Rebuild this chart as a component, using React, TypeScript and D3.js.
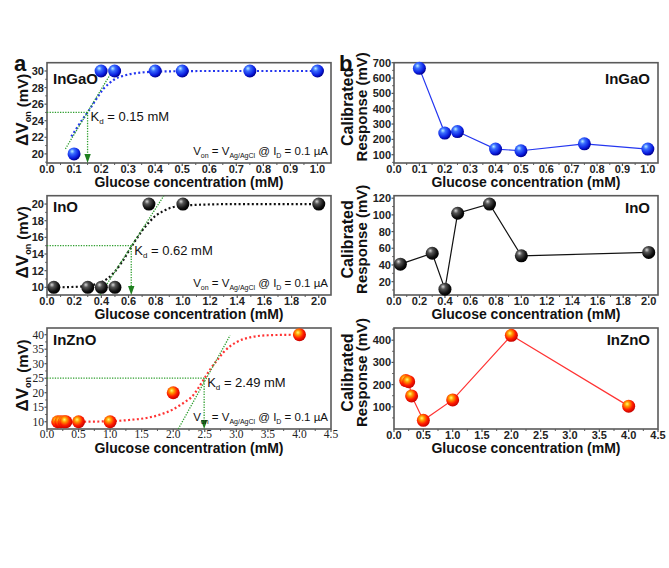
import * as d3 from "d3";

// ---- panel a : delta V_on vs glucose, with fit ----
const ingaoConc = [0.1, 0.2, 0.25, 0.4, 0.5, 0.75, 1.0];
const ingaoDeltaV = [20, 30, 30, 30, 30, 30, 30];
const ingaoFitConc = [0.09, 0.11, 0.13, 0.15, 0.17, 0.19, 0.21, 0.23, 0.25, 0.28, 0.32, 0.36, 0.4, 0.5, 0.6, 0.75, 1.0];
const ingaoFitV = [22.1, 23.1, 24.1, 25.0, 26.0, 27.0, 27.9, 28.5, 29.0, 29.4, 29.7, 29.85, 29.92, 29.98, 30, 30, 30];
const ingaoTangentConc = [0.068, 0.245];
const ingaoTangentV = [20.6, 30.2];

const inoConc = [0.05, 0.3, 0.4, 0.5, 0.75, 1.0, 2.0];
const inoDeltaV = [10, 10, 10, 10, 20, 20, 20];
const inoFitConc = [0.05, 0.2, 0.3, 0.4, 0.45, 0.5, 0.55, 0.6, 0.65, 0.7, 0.75, 0.8, 0.85, 0.9, 1.0, 1.1, 1.2, 1.4, 1.6, 2.0];
const inoFitV = [10, 10.05, 10.2, 10.6, 11.1, 11.9, 13.0, 14.3, 15.6, 16.8, 17.8, 18.6, 19.1, 19.5, 19.8, 19.9, 19.95, 20, 20, 20];
const inoTangentConc = [0.39, 0.86];
const inoTangentV = [9.1, 21];

const inznoConc = [0.17, 0.22, 0.27, 0.3, 0.5, 1.0, 2.0, 4.0];
const inznoDeltaV = [10, 10, 10, 10, 10, 10, 20, 40];
const inznoFitConc = [0.17, 0.5, 1.0, 1.3, 1.6, 1.8, 2.0, 2.1, 2.2, 2.3, 2.4, 2.5, 2.6, 2.7, 2.8, 2.9, 3.0, 3.2, 3.5, 4.0];
const inznoFitV = [10, 10, 10.2, 10.6, 11.4, 12.5, 14.3, 15.6, 17.0, 18.7, 21.7, 25.1, 28.5, 31.3, 34.0, 36.0, 37.4, 39.0, 39.8, 40];
const inznoTangentConc = [2.08, 2.9];
const inznoTangentV = [7.5, 39.7];

const kdValues = [0.15, 0.62, 2.49];
const halfLevels = [25, 15, 25];
const kdLabels = ["0.15", "0.62", "2.49"];

// ---- panel b : calibrated response ----
const ingaoRespConc = [0.1, 0.2, 0.25, 0.4, 0.5, 0.75, 1.0];
const ingaoResponse = [663, 241, 251, 137, 126, 171, 137];
const inoRespConc = [0.05, 0.3, 0.4, 0.5, 0.75, 1.0, 2.0];
const inoResponse = [41, 54, 11, 102, 113, 51, 55];
const inznoRespConc = [0.2, 0.25, 0.3, 0.5, 1.0, 2.0, 4.0];
const inznoResponse = [218, 213, 149, 39, 131, 422, 103];

const materials = ["InGaO", "InO", "InZnO"];

// ticks
const xTicksRow = [
  [0, 0.1, 0.2, 0.3, 0.4, 0.5, 0.6, 0.7, 0.8, 0.9, 1.0],
  [0, 0.2, 0.4, 0.6, 0.8, 1.0, 1.2, 1.4, 1.6, 1.8, 2.0],
  [0, 0.5, 1.0, 1.5, 2.0, 2.5, 3.0, 3.5, 4.0, 4.5],
];
const aYTicks = [
  [20, 22, 24, 26, 28, 30],
  [10, 12, 14, 16, 18, 20],
  [10, 15, 20, 25, 30, 35, 40],
];
const bYTicks = [
  [100, 200, 300, 400, 500, 600, 700],
  [20, 40, 60, 80, 100, 120],
  [100, 200, 300, 400],
];
const aXDomains = [[0, 1.05], [0, 2.09], [0, 4.5]];
const aYDomains = [[18.9, 31], [9.08, 21], [7.5, 42.3]];
const bXDomains = [[0, 1.04], [0, 2.073], [0, 4.5]];
const bYDomains = [[46, 700], [4, 123], [0, 455]];

const SANS = "'Liberation Sans', Arial, sans-serif";
const SERIF = "'Liberation Serif', 'Times New Roman', serif";

const rowTop = [62.7, 195.7, 328];
const rowBottom = [163, 295, 429];
const colA = [47, 331];
const colB = [394, 658];

const ballColors = ["blue", "black", "red"];
const lineColors = ["#2436f0", "#111111", "#ff3333"];

function minorTicks(major: number[], domain: number[]) {
  const step = major[1] - major[0];
  const out: number[] = [];
  for (let i = 0; i < major.length; i++) {
    const m = major[i] + step / 2;
    if (m < domain[1] - 1e-9) out.push(m);
  }
  if (major[0] - step / 2 > domain[0]) out.push(major[0] - step / 2);
  return out;
}

function Axes({ x, y, xTicks, yTicks, xFmt, yFmt, serif, top, bottom, left, right }: any) {
  const fam = serif ? SERIF : SANS;
  const weight = serif ? "normal" : "bold";
  const fs = serif ? 11.5 : 11;
  const labelY = serif ? bottom + 8.5 : bottom + 10;
  return (
    <g>
      {yTicks.map((v: number) => (
        <g key={"y" + v}>
          <line x1={left - 2.5} x2={left} y1={y(v)} y2={y(v)} stroke="#555" strokeWidth={1.2} />
          <text x={left - 3} y={y(v)} dy="0.36em" textAnchor="end" fontFamily={fam} fontWeight={weight} fontSize={fs} fill="#222">
            {yFmt(v)}
          </text>
        </g>
      ))}
      {minorTicks(yTicks, y.domain()).map((v: number) => (
        <line key={"ym" + v} x1={left - 1.8} x2={left} y1={y(v)} y2={y(v)} stroke="#555" strokeWidth={1} />
      ))}
      {xTicks.map((v: number) => (
        <g key={"x" + v}>
          <line x1={x(v)} x2={x(v)} y1={bottom} y2={bottom + 3} stroke="#555" strokeWidth={1.2} />
          <text x={x(v)} y={labelY} textAnchor="middle" fontFamily={fam} fontWeight={weight} fontSize={fs} fill="#222">
            {xFmt(v)}
          </text>
        </g>
      ))}
      {minorTicks(xTicks, x.domain()).map((v: number) => (
        <line key={"xm" + v} x1={x(v)} x2={x(v)} y1={bottom} y2={bottom + 2} stroke="#555" strokeWidth={1} />
      ))}
      <rect x={left} y={top} width={right - left} height={bottom - top} fill="none" stroke="#5a5a5a" strokeWidth={1.6} />
      <text x={(left + right) / 2} y={bottom + 24} textAnchor="middle" fontFamily={SANS} fontWeight="bold" fontSize={14} fill="#111">
        Glucose concentration (mM)
      </text>
    </g>
  );
}

function Ball({ cx, cy, color }: any) {
  return <circle cx={cx} cy={cy} r={6.5} fill={`url(#ball-${color})`} />;
}

function PanelA({ row, conc, dv, fitConc, fitV, tanConc, tanV }: any) {
  const top = rowTop[row], bottom = rowBottom[row];
  const [left, right] = colA;
  const x = d3.scaleLinear().domain(aXDomains[row]).range([left, right]);
  const y = d3.scaleLinear().domain(aYDomains[row]).range([bottom, top]);
  const fitLine = d3.line<number>().x((d, i) => x(fitConc[i])).y((d) => y(d)).curve(d3.curveMonotoneX);
  const kd = kdValues[row], half = halfLevels[row];
  const green = "#2e9e2e";
  const clipId = "clipA" + row;
  const labelDy = [21, 16, 17][row];
  return (
    <g>
      <clipPath id={clipId}>
        <rect x={left} y={top} width={right - left} height={bottom - top} />
      </clipPath>
      <Axes
        x={x} y={y} xTicks={xTicksRow[row]} yTicks={aYTicks[row]}
        xFmt={d3.format(".1f")} yFmt={d3.format("d")} serif={row === 2}
        top={top} bottom={bottom} left={left} right={right}
      />
      <g clipPath={`url(#${clipId})`}>
        <path d={fitLine(fitV) || ""} fill="none" stroke={lineColors[row]} strokeWidth={2.2} strokeDasharray="2 2.4" />
        <line x1={x(tanConc[0])} y1={y(tanV[0])} x2={x(tanConc[1])} y2={y(tanV[1])} stroke={green} strokeWidth={1.3} strokeDasharray="1.3 1.3" />
        <line x1={left} y1={y(half)} x2={x(kd)} y2={y(half)} stroke={green} strokeWidth={1.3} strokeDasharray="1.3 1.3" />
        <line x1={x(kd)} y1={y(half)} x2={x(kd)} y2={bottom - 6} stroke={green} strokeWidth={1.3} strokeDasharray="1.3 1.3" />
        <path d={`M${x(kd) - 3.2},${bottom - 9} L${x(kd) + 3.2},${bottom - 9} L${x(kd)},${bottom} Z`} fill="#1f7f1f" />
      </g>
      {dv.map((v: number, i: number) => (
        <Ball key={i} cx={x(conc[i])} cy={y(v)} color={ballColors[row]} />
      ))}
      <text x={left + 6} y={top + labelDy} fontFamily={SANS} fontWeight="bold" fontSize={15} fill="#111">
        {materials[row]}
      </text>
      <text x={x(kd) + 3} y={y(half) + 9} fontFamily={SANS} fontSize={13} fill="#111">
        K<tspan dy={3} fontSize={8}>d</tspan>
        <tspan dy={-3}> = {kdLabels[row]} mM</tspan>
      </text>
      <text x={right - 3} y={bottom - 8} textAnchor="end" fontFamily={SANS} fontSize={11.5} fill="#111">
        V<tspan dy={3} fontSize={7}>on</tspan>
        <tspan dy={-3}> = V</tspan>
        <tspan dy={3} fontSize={7}>Ag/AgCl</tspan>
        <tspan dy={-3}> @ I</tspan>
        <tspan dy={3} fontSize={7}>D</tspan>
        <tspan dy={-3}> = 0.1 µA</tspan>
      </text>
      <text
        transform={`translate(28,${(top + bottom) / 2 - 3}) rotate(-90)`}
        textAnchor="middle" fontFamily={SANS} fontWeight="bold" fontSize={15} fill="#111"
      >
        <tspan fontSize={17}>ΔV</tspan>
        <tspan dy={3} fontSize={9}>on</tspan>
        <tspan dy={-3}> (mV)</tspan>
      </text>
    </g>
  );
}

function PanelB({ row, conc, resp }: any) {
  const top = rowTop[row], bottom = rowBottom[row];
  const [left, right] = colB;
  const x = d3.scaleLinear().domain(bXDomains[row]).range([left, right]);
  const y = d3.scaleLinear().domain(bYDomains[row]).range([bottom, top]);
  const line = d3.line<number>().x((d, i) => x(conc[i])).y((d) => y(d));
  const labelDy = [21, 17, 17][row];
  const cy = (top + bottom) / 2 - 6;
  return (
    <g>
      <Axes
        x={x} y={y} xTicks={xTicksRow[row]} yTicks={bYTicks[row]}
        xFmt={d3.format(".1f")} yFmt={d3.format("d")} serif={false}
        top={top} bottom={bottom} left={left} right={right}
      />
      <path d={line(resp) || ""} fill="none" stroke={lineColors[row]} strokeWidth={1.2} />
      {resp.map((v: number, i: number) => (
        <Ball key={i} cx={x(conc[i])} cy={y(v)} color={ballColors[row]} />
      ))}
      <text x={right - 8} y={top + labelDy} textAnchor="end" fontFamily={SANS} fontWeight="bold" fontSize={15} fill="#111">
        {materials[row]}
      </text>
      <text transform={`translate(353,${cy}) rotate(-90)`} textAnchor="middle" fontFamily={SANS} fontWeight="bold" fontSize={16} fill="#111">
        Calibrated
      </text>
      <text transform={`translate(367,${cy}) rotate(-90)`} textAnchor="middle" fontFamily={SANS} fontWeight="bold" fontSize={15} fill="#111">
        Response (mV)
      </text>
    </g>
  );
}

export default function App() {
  return (
    <svg width={669} height={568} style={{ position: "absolute", left: 0, top: 0, background: "#fff" }}>
      <defs>
        <radialGradient id="ball-blue" cx="38%" cy="35%" r="65%" fx="35%" fy="30%">
          <stop offset="0%" stopColor="#b8f0ff" />
          <stop offset="30%" stopColor="#3a6dff" />
          <stop offset="75%" stopColor="#0a1ee0" />
          <stop offset="100%" stopColor="#000090" />
        </radialGradient>
        <radialGradient id="ball-black" cx="38%" cy="35%" r="65%" fx="35%" fy="30%">
          <stop offset="0%" stopColor="#d8d8d8" />
          <stop offset="30%" stopColor="#555" />
          <stop offset="75%" stopColor="#111" />
          <stop offset="100%" stopColor="#000" />
        </radialGradient>
        <radialGradient id="ball-red" cx="40%" cy="38%" r="65%" fx="38%" fy="33%">
          <stop offset="0%" stopColor="#ffff70" />
          <stop offset="28%" stopColor="#ff9a00" />
          <stop offset="65%" stopColor="#ff1a00" />
          <stop offset="100%" stopColor="#c00000" />
        </radialGradient>
      </defs>
      <rect width={669} height={568} fill="#fff" />
      <text x={14} y={71} fontFamily={SANS} fontWeight="bold" fontSize={22} fill="#111">a</text>
      <text x={339} y={71} fontFamily={SANS} fontWeight="bold" fontSize={22} fill="#111">b</text>

      <PanelA row={0} conc={ingaoConc} dv={ingaoDeltaV} fitConc={ingaoFitConc} fitV={ingaoFitV} tanConc={ingaoTangentConc} tanV={ingaoTangentV} />
      <PanelA row={1} conc={inoConc} dv={inoDeltaV} fitConc={inoFitConc} fitV={inoFitV} tanConc={inoTangentConc} tanV={inoTangentV} />
      <PanelA row={2} conc={inznoConc} dv={inznoDeltaV} fitConc={inznoFitConc} fitV={inznoFitV} tanConc={inznoTangentConc} tanV={inznoTangentV} />

      <PanelB row={0} conc={ingaoRespConc} resp={ingaoResponse} />
      <PanelB row={1} conc={inoRespConc} resp={inoResponse} />
      <PanelB row={2} conc={inznoRespConc} resp={inznoResponse} />
    </svg>
  );
}
